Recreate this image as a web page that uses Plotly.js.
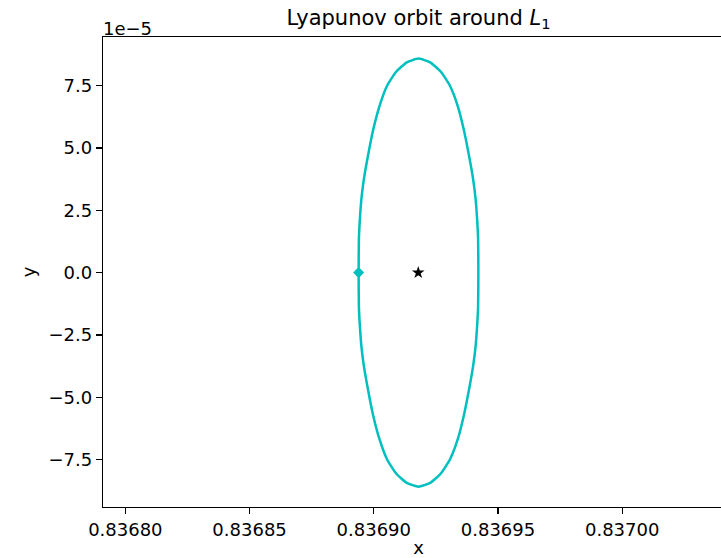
<!DOCTYPE html>
<html>
<head>
<meta charset="utf-8">
<script src="https://cdn.plot.ly/plotly-3.0.1.min.js"></script>
<style>
html, body { margin: 0; padding: 0; overflow: hidden; background: #fff; width: 721px; height: 558px; }
#chart { width: 760px; height: 558px; }
</style>
</head>
<body>
<div id="chart"></div>
<script>
// Orbit points (x, y)
const orbitX = [0.8368939, 0.8368940, 0.8368944, 0.8368950, 0.8368960, 0.8368974, 0.8368998, 0.8369023, 0.8369053, 0.8369090,
  0.8369133, 0.8369180, 0.8369227, 0.8369270, 0.8369307, 0.8369338, 0.8369362, 0.8369386, 0.8369400, 0.8369410,
  0.8369416, 0.8369420, 0.8369421, 0.8369420, 0.8369416, 0.8369410, 0.8369400, 0.8369386, 0.8369362, 0.8369338,
  0.8369307, 0.8369270, 0.8369227, 0.8369180, 0.8369133, 0.8369090, 0.8369053, 0.8369023, 0.8368998, 0.8368974,
  0.8368960, 0.8368950, 0.8368944, 0.8368940, 0.8368939];
const orbitY = [0, 1.336e-5, 2.138e-5, 2.940e-5, 3.742e-5, 4.544e-5, 5.748e-5, 6.682e-5, 7.485e-5, 8.054e-5,
  8.435e-5, 8.584e-5, 8.435e-5, 8.054e-5, 7.485e-5, 6.682e-5, 5.748e-5, 4.544e-5, 3.742e-5, 2.940e-5,
  2.138e-5, 1.336e-5, 0, -1.336e-5, -2.138e-5, -2.940e-5, -3.742e-5, -4.544e-5, -5.748e-5, -6.682e-5,
  -7.485e-5, -8.054e-5, -8.435e-5, -8.584e-5, -8.435e-5, -8.054e-5, -7.485e-5, -6.682e-5, -5.748e-5, -4.544e-5,
  -3.742e-5, -2.940e-5, -2.138e-5, -1.336e-5, 0];
// Initial state (diamond) and L1 point (star)
const startX = [0.8368939];
const startY = [0];
const L1X = [0.8369179];
const L1Y = [0];

const xTickVals = [0.83680, 0.83685, 0.83690, 0.83695, 0.83700];
const xTickText = ['0.83680', '0.83685', '0.83690', '0.83695', '0.83700'];
const yTickVals = [-7.5e-5, -5.0e-5, -2.5e-5, 0, 2.5e-5, 5.0e-5, 7.5e-5];
const yTickText = ['\u22127.5', '\u22125.0', '\u22122.5', '0.0', '2.5', '5.0', '7.5'];

const cyan = '#00bfbf';
const font = 'DejaVu Sans, sans-serif';

const traces = [
  { x: orbitX, y: orbitY, mode: 'lines', line: { color: cyan, width: 2.5, shape: 'spline', smoothing: 0.5 }, hoverinfo: 'skip' },
  { x: startX, y: startY, mode: 'markers', marker: { symbol: 'diamond', color: cyan, size: 8.5 } },
  { x: L1X, y: L1Y, mode: 'markers', marker: { symbol: 'star', color: 'black', size: 9.5 } }
];

const layout = {
  width: 760, height: 558,
  margin: { l: 103, r: 26, t: 37, b: 51 },
  paper_bgcolor: '#fff', plot_bgcolor: '#fff',
  showlegend: false,
  font: { family: font, size: 18, color: '#000' },
  title: { text: 'Lyapunov orbit around <i>L</i><sub>1</sub>', font: { family: font, size: 21, color: '#000' },
           x: 0.5, xref: 'paper', xanchor: 'center', y: 1, yref: 'paper', yanchor: 'bottom', pad: { b: 12 } },
  xaxis: {
    range: [0.836791, 0.837045],
    tickvals: xTickVals, ticktext: xTickText,
    ticks: 'outside', ticklen: 6, tickwidth: 1.3, tickcolor: '#000',
    showline: true, linecolor: '#000', linewidth: 1.3, mirror: true,
    showgrid: false, zeroline: false,
    tickfont: { family: font, size: 18, color: '#000' },
    title: { text: 'x', font: { family: font, size: 18, color: '#000' }, standoff: 9 }
  },
  yaxis: {
    range: [-9.4e-5, 9.45e-5],
    tickvals: yTickVals, ticktext: yTickText,
    ticks: 'outside', ticklen: 6, tickwidth: 1.3, tickcolor: '#000',
    showline: true, linecolor: '#000', linewidth: 1.3, mirror: true,
    showgrid: false, zeroline: false,
    tickfont: { family: font, size: 18, color: '#000' },
    title: { text: 'y', font: { family: font, size: 18, color: '#000' }, standoff: 8 }
  },
  annotations: [
    { text: '1e\u22125', xref: 'paper', yref: 'paper', x: 0, y: 1, xanchor: 'left', yanchor: 'bottom', yshift: -4, xshift: -2,
      showarrow: false, font: { family: font, size: 18, color: '#000' } }
  ]
};

Plotly.newPlot('chart', traces, layout, { displayModeBar: false, staticPlot: true });
</script>
</body>
</html>
